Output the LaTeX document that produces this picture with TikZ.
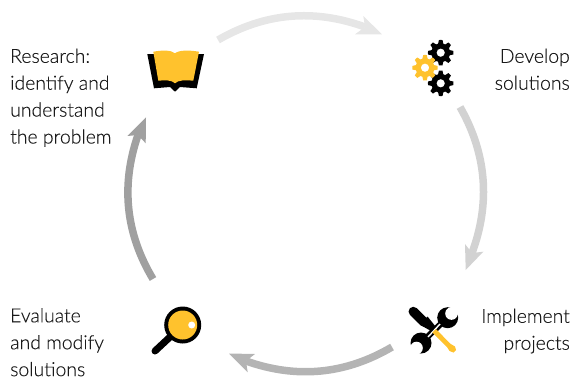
\documentclass[tikz,border=0pt]{standalone}
\usepackage{fontspec}
\setmainfont[FakeBold=0.15]{Lato Light}
\definecolor{gold}{HTML}{FFC22D}
\definecolor{txt}{HTML}{1A1A1A}
\definecolor{arcA}{HTML}{E6E6E6}
\definecolor{arcB}{HTML}{D2D2D2}
\definecolor{arcC}{HTML}{B4B4B4}
\definecolor{arcD}{HTML}{A0A0A0}
\tikzset{
  x=1pt,y=-1pt,
  cycarrow/.style={line width=7.5pt,bend left=25,looseness=.94},
  lab/.style={font=\fontsize{19.4}{26.9}\selectfont,text=txt,inner sep=0pt},
  ink/.style={fill=black,draw=none},
  goldfill/.style={fill=gold,draw=none},
}
\newcommand{\gear}[3]{% centre x, y, colour
  \fill[#3,even odd rule]
  plot[smooth cycle,tension=.08] coordinates {
    (#1+12.8*cos 8,#2+12.8*sin 8)(#1+9.4*cos 16,#2+9.4*sin 16)(#1+9.4*cos 29,#2+9.4*sin 29)(#1+12.8*cos 37,#2+12.8*sin 37)
    (#1+12.8*cos 53,#2+12.8*sin 53)(#1+9.4*cos 61,#2+9.4*sin 61)(#1+9.4*cos 74,#2+9.4*sin 74)(#1+12.8*cos 82,#2+12.8*sin 82)
    (#1+12.8*cos 98,#2+12.8*sin 98)(#1+9.4*cos 106,#2+9.4*sin 106)(#1+9.4*cos 119,#2+9.4*sin 119)(#1+12.8*cos 127,#2+12.8*sin 127)
    (#1+12.8*cos 143,#2+12.8*sin 143)(#1+9.4*cos 151,#2+9.4*sin 151)(#1+9.4*cos 164,#2+9.4*sin 164)(#1+12.8*cos 172,#2+12.8*sin 172)
    (#1+12.8*cos 188,#2+12.8*sin 188)(#1+9.4*cos 196,#2+9.4*sin 196)(#1+9.4*cos 209,#2+9.4*sin 209)(#1+12.8*cos 217,#2+12.8*sin 217)
    (#1+12.8*cos 233,#2+12.8*sin 233)(#1+9.4*cos 241,#2+9.4*sin 241)(#1+9.4*cos 254,#2+9.4*sin 254)(#1+12.8*cos 262,#2+12.8*sin 262)
    (#1+12.8*cos 278,#2+12.8*sin 278)(#1+9.4*cos 286,#2+9.4*sin 286)(#1+9.4*cos 299,#2+9.4*sin 299)(#1+12.8*cos 307,#2+12.8*sin 307)
    (#1+12.8*cos 323,#2+12.8*sin 323)(#1+9.4*cos 331,#2+9.4*sin 331)(#1+9.4*cos 344,#2+9.4*sin 344)(#1+12.8*cos 352,#2+12.8*sin 352)
  } (#1+4.2,#2) arc[start angle=0,end angle=360,radius=4.2];
}
\begin{document}
\begin{tikzpicture}
\useasboundingbox (0,0) rectangle (572,378);
% cycle anchors
\coordinate (bookEnd) at (218,40);
\coordinate (gearNotch) at (365,27);
\coordinate (gearOut) at (460,107);
\coordinate (toolNotch) at (472,253);
\coordinate (toolOut) at (392,347);
\coordinate (lensNotch) at (246,361);
\coordinate (lensOut) at (153,279);
\coordinate (bookNotch) at (138,135);
\draw[cycarrow,color=arcA] (bookEnd) to (gearNotch);
\fill[arcA] (382,34.3) -- (363.3,16) -- (gearNotch) -- (355,34.3) -- cycle;
\draw[cycarrow,color=arcB] (gearOut) to (toolNotch);
\fill[arcB] (465.7,270) -- (483.3,251.7) -- (toolNotch) -- (465,244) -- cycle;
\draw[cycarrow,color=arcC] (toolOut) to (lensNotch);
\fill[arcC] (229,353.5) -- (247.7,372.3) -- (lensNotch) -- (255,354) -- cycle;
\draw[cycarrow,color=arcD] (lensOut) to (bookNotch);
\fill[arcD] (146,117.3) -- (127.3,136) -- (bookNotch) -- (145.7,143.3) -- cycle;
% book
\fill[ink] (147.3,54) -- (154,88.3) -- (170,87) -- (175,91.7) -- (180,87) -- (196.7,88.3) -- (204,54) -- cycle;
\fill[goldfill] (153.3,51.7) .. controls (163,50) and (171,50) .. (175,53.3) .. controls (179,50) and (189,50) .. (199,51.7)
  -- (193.3,80.7) .. controls (185,80) and (178,80) .. (175,83.3) .. controls (172,80) and (165,80) .. (158.3,80.7) -- cycle;
% gears
\gear{440.7}{52.7}{black}
\gear{440.7}{83.3}{black}
\gear{425}{67.7}{gold}
% wrench
\draw[line width=6pt] (447,318) -- (421,343);
\fill[black] (447.7,317.7) circle[radius=10.5];
\fill[black] (421,343) circle[radius=10.5];
\fill[white] (451.5,313.5) circle[radius=6.3];
\fill[white] (448,310) -- (455,317) -- (466,306) -- (459,299) -- cycle;
\fill[white] (416.5,348) circle[radius=6.3];
\fill[white] (413,344.5) -- (420,351.5) -- (409,362.5) -- (402,355.5) -- cycle;
% screwdriver
\draw[white,line width=1.4pt] (428,337) -- (440,324);
\fill[goldfill] (432.3,332.5) -- (436,329) -- (450,343.5) -- (455,346.5) -- (456,350) -- (453.5,352.5) -- (449.5,351) -- (447,347) -- cycle;
\draw[line width=9.5pt,line cap=round] (413.3,311.5) -- (424,322);
\fill[ink] (419.5,324.5) -- (427.5,316.5) -- (435.5,326.5) -- (431,331) -- cycle;
% lens
\draw[line width=7pt,line cap=round] (155,351) -- (170,337);
\fill[ink] (182.7,325) circle[radius=18.5];
\fill[goldfill] (182.7,325) circle[radius=14.5];
\fill[white] (191.7,325) circle[radius=3.5];
% labels
\node[lab,anchor=north west,align=left] (research) at (10,48.5) {Research:\\identify and\\understand\\the problem};
\node[lab,anchor=north east,align=right] (develop) at (570,48.5) {Develop\\solutions};
\node[lab,anchor=north east,align=right] (implement) at (570,308.5) {Implement\\projects};
\node[lab,anchor=north west,align=left] (evaluate) at (10,308) {Evaluate\\and modify\\solutions};
\end{tikzpicture}
\end{document}
